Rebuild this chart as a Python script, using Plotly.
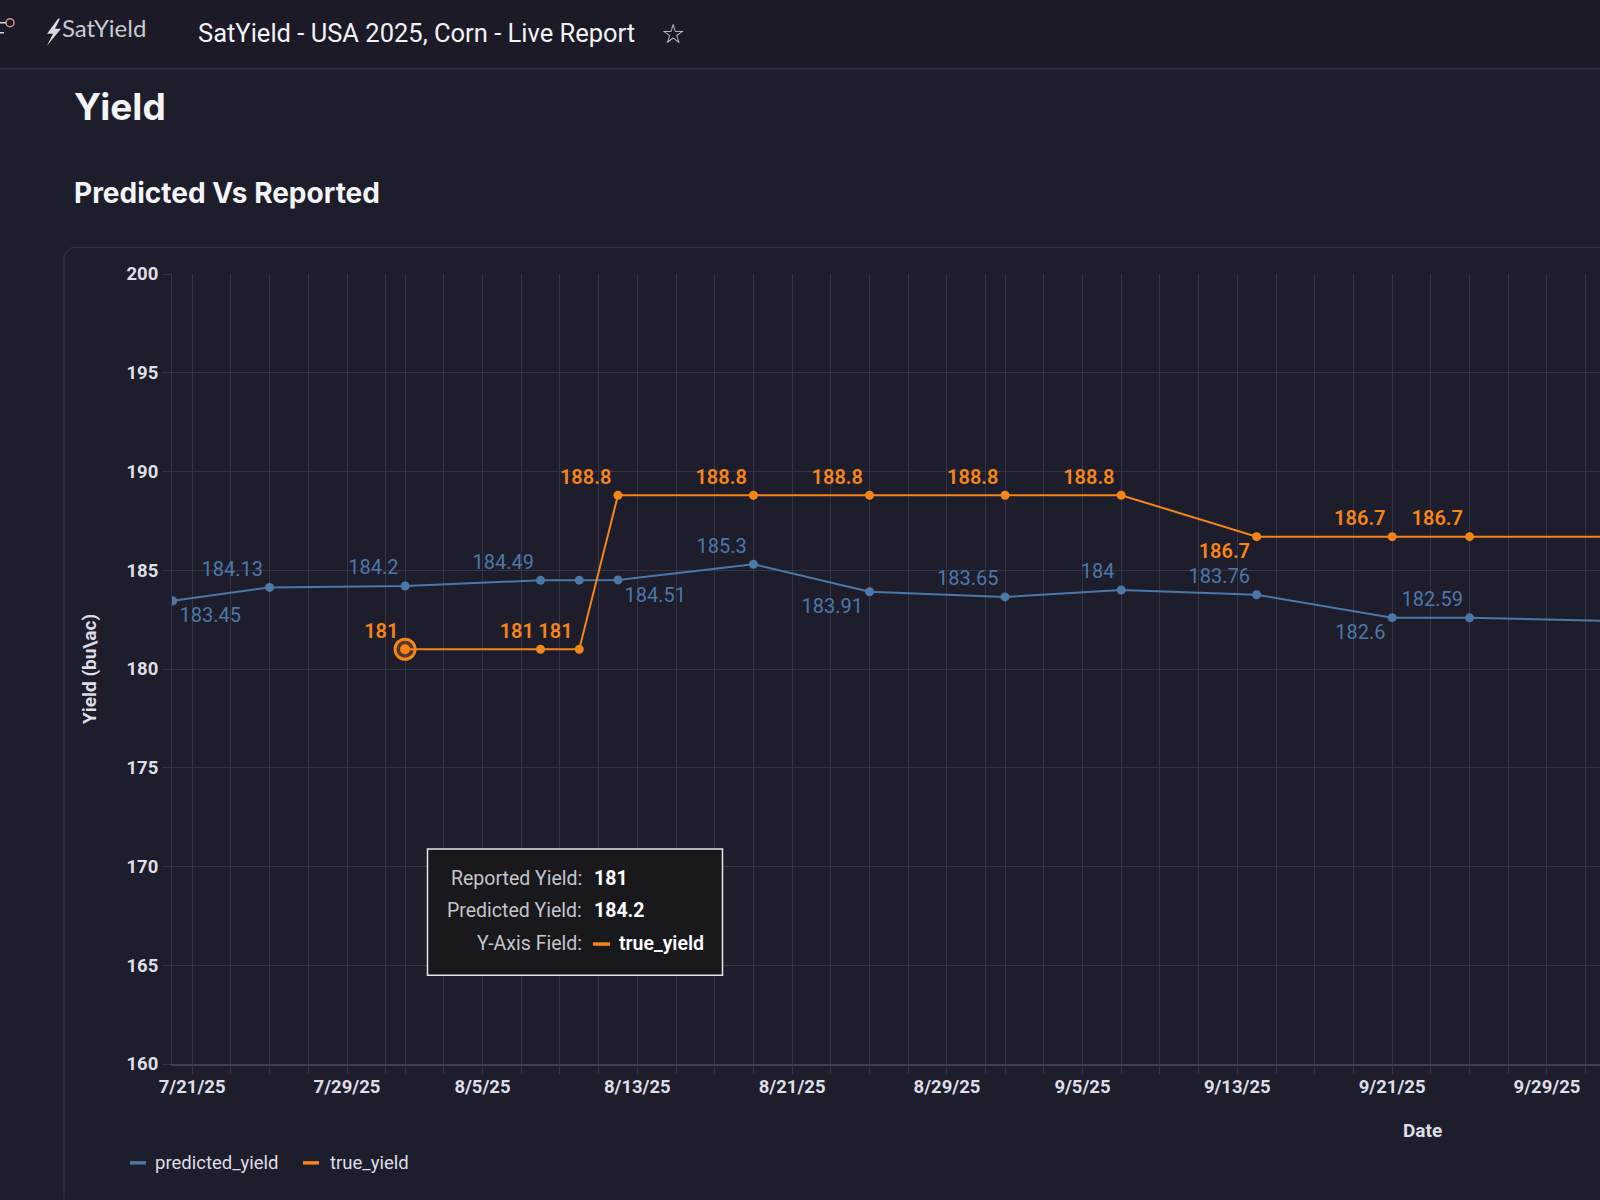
import pandas as pd
import plotly.graph_objects as go

# ---------------- data ----------------
pred_dates = ["2025-07-20", "2025-07-25", "2025-08-01", "2025-08-08", "2025-08-10",
              "2025-08-12", "2025-08-19", "2025-08-25", "2025-09-01", "2025-09-07",
              "2025-09-14", "2025-09-21", "2025-09-25", "2025-10-02"]
pred_values = [183.45, 184.13, 184.2, 184.49, 184.5, 184.51, 185.3, 183.91, 183.65,
               184.0, 183.76, 182.6, 182.59, 182.44]

true_dates = ["2025-08-01", "2025-08-08", "2025-08-10", "2025-08-12", "2025-08-19",
              "2025-08-25", "2025-09-01", "2025-09-07", "2025-09-14", "2025-09-21",
              "2025-09-25", "2025-10-02"]
true_values = [181, 181, 181, 188.8, 188.8, 188.8, 188.8, 188.8, 186.7, 186.7, 186.7, 186.7]

x_tick_dates = ["2025-07-21", "2025-07-29", "2025-08-05", "2025-08-13", "2025-08-21",
                "2025-08-29", "2025-09-05", "2025-09-13", "2025-09-21", "2025-09-29"]
x_tick_labels = ["7/21/25", "7/29/25", "8/5/25", "8/13/25", "8/21/25",
                 "8/29/25", "9/5/25", "9/13/25", "9/21/25", "9/29/25"]
y_tick_values = [160, 165, 170, 175, 180, 185, 190, 195, 200]

series_names = ["predicted_yield", "true_yield"]
hover_index = 0  # hovered true_yield point (8/1/25)
hover_pred_index = 2

# ---------------- styles ----------------
pred_label_pos = ["bottom right", "top left", "top left", "top left", None, "bottom right",
                  "top left", "bottom left", "top left", "top left", "top left",
                  "bottom left", "top left", None]
true_label_pos = ["top left", "top left", "top left", "top left", "top left", "top left",
                  "top left", "top left", "bottom left", "top left", "top left", None]

BG = "#1e1d2b"
HEADER_BG = "#1b1a26"
GRID = "#34334a"
AXIS = "#403f57"
BLUE = "#4c78a8"
ORANGE = "#f58518"
TXT = "#dedee6"
FONT = "Roboto"

W, H = 1600, 1200
L, R, T, B = 172, 1600, 273.5, 1064.3


def px(x):
    return (x - L) / (R - L)


def py(y):
    return (B - y) / (B - T)


def fmt(v):
    return f"{v:g}"


def labels(values, pos):
    return [fmt(v) if p else "" for v, p in zip(values, pos)]


def positions(pos):
    return [p if p else "top center" for p in pos]


fig = go.Figure()

fig.add_trace(go.Scatter(
    x=pred_dates, y=pred_values, name=series_names[0], mode="lines+markers+text",
    line=dict(color=BLUE, width=2), marker=dict(color=BLUE, size=9),
    text=labels(pred_values, pred_label_pos), textposition=positions(pred_label_pos),
    textfont=dict(color=BLUE, size=20, family=FONT), cliponaxis=True, showlegend=False,
))
fig.add_trace(go.Scatter(
    x=true_dates, y=true_values, name=series_names[1], mode="lines+markers+text",
    line=dict(color=ORANGE, width=2), marker=dict(color=ORANGE, size=9),
    text=labels(true_values, true_label_pos), textposition=positions(true_label_pos),
    textfont=dict(color=ORANGE, size=20, family=FONT, weight=600), cliponaxis=True,
    showlegend=False,
))
# hovered point highlight
fig.add_trace(go.Scatter(
    x=[true_dates[hover_index]], y=[true_values[hover_index]], mode="markers",
    marker=dict(symbol="circle", size=20, color="rgba(245,133,24,0.25)",
                line=dict(color=ORANGE, width=3)),
    showlegend=False, hoverinfo="skip",
))
fig.add_trace(go.Scatter(
    x=[true_dates[hover_index]], y=[true_values[hover_index]], mode="markers",
    marker=dict(symbol="circle-open", size=8, color=ORANGE, line=dict(color=ORANGE, width=2)),
    showlegend=False, hoverinfo="skip",
))

minor_days = [d.strftime("%Y-%m-%d") for d in pd.date_range("2025-07-19", "2025-10-05")
              if d.day % 2 == 1]

fig.update_layout(
    width=W, height=H,
    margin=dict(l=L, r=W - R, t=T, b=H - B),
    paper_bgcolor=BG, plot_bgcolor=BG,
    font=dict(family=FONT, color=TXT),
    showlegend=False,
    xaxis=dict(
        type="date", range=["2025-07-19 23:00", "2025-10-01 17:45"],
        tickmode="array", tickvals=x_tick_dates, ticktext=x_tick_labels,
        tickfont=dict(size=18.5, color=TXT, weight="bold", family=FONT),
        showgrid=True, gridcolor=GRID, gridwidth=1,
        ticks="outside", ticklen=5, tickcolor=GRID,
        minor=dict(tickmode="array", tickvals=minor_days, showgrid=True, gridcolor=GRID,
                   gridwidth=1, ticks="outside", ticklen=8, tickcolor=GRID),
        showline=True, linecolor=AXIS, linewidth=2, zeroline=False, automargin=False,
    ),
    yaxis=dict(
        range=[160, 200], tickmode="array", tickvals=y_tick_values,
        tickfont=dict(size=18.5, color=TXT, weight="bold", family=FONT),
        showgrid=True, gridcolor=GRID, gridwidth=1,
        ticks="outside", ticklen=9, tickcolor=GRID,
        showline=True, linecolor=GRID, linewidth=1, zeroline=False, automargin=False,
        title=dict(text="Yield (bu\\ac)", font=dict(size=19, color=TXT, weight="bold"),
                   standoff=24),
    ),
)

shapes = []
annotations = []


def ann(text, x, y, size, color=TXT, xanchor="left", yanchor="middle", weight="normal",
        family=FONT):
    annotations.append(dict(text=text, x=px(x), y=py(y), xref="paper", yref="paper",
                            showarrow=False, xanchor=xanchor, yanchor=yanchor,
                            font=dict(size=size, color=color, weight=weight, family=family)))


def rect(x0, y0, x1, y1, fill=None, line=None, lw=1):
    shapes.append(dict(type="rect", xref="paper", yref="paper", x0=px(x0), x1=px(x1),
                       y0=py(y0), y1=py(y1), fillcolor=fill or "rgba(0,0,0,0)",
                       line=dict(color=line or "rgba(0,0,0,0)", width=lw if line else 0),
                       layer="above"))


def path(points, fill=None, line=None, lw=1, close=True):
    d = "M " + " L ".join(f"{px(x):.5f},{py(y):.5f}" for x, y in points)
    if close:
        d += " Z"
    shapes.append(dict(type="path", xref="paper", yref="paper", path=d,
                       fillcolor=fill or "rgba(0,0,0,0)",
                       line=dict(color=line or "rgba(0,0,0,0)", width=lw if line else 0),
                       layer="above"))


# header bar
shapes.append(dict(type="rect", xref="paper", yref="paper", x0=px(0), x1=px(W), y0=py(0),
                   y1=py(68), fillcolor=HEADER_BG, line=dict(width=0), layer="below"))
shapes.append(dict(type="line", xref="paper", yref="paper", x0=px(0), x1=px(W), y0=py(68),
                   y1=py(68), line=dict(color="#2f2e3f", width=1.5)))
# small left icon
shapes.append(dict(type="circle", xref="paper", yref="paper", x0=px(6), x1=px(14),
                   y0=py(18), y1=py(26), line=dict(color="#e08f84", width=1.5)))
path([(0, 22), (6, 22)], line="#d8d8e0", lw=1.5, close=False)
path([(0, 32), (4, 32)], line="#d8d8e0", lw=1.5, close=False)
# logo bolt
path([(58, 18), (47, 33), (53, 33), (47, 45), (61, 28), (55, 28), (60, 18)], fill="#d8d8e0")
ann("SatYield", 60, 27, 24, color="#c9c9d2", family="Lato")
ann("SatYield - USA 2025, Corn - Live Report", 196, 32, 25.5, color="#f2f2f6")
ann("☆", 673, 33, 27, color="#d0d0d8", xanchor="center", family="DejaVu Sans")

# headings
ann("Yield", 72, 106, 37, color="#f4f4f8", weight="bold", family="Inter")
ann("Predicted Vs Reported", 72, 192, 28, color="#f4f4f8", weight="bold", family="Inter")

# panel border
path([(1600, 247), (72, 247), (64, 255), (64, 1200)], line="#302f40", lw=1.5, close=False)

# x-axis title
ann("Date", 1422, 1131, 19, weight="bold", xanchor="center")

# legend
legend_items = [(series_names[0], BLUE, 130, 153), (series_names[1], ORANGE, 303, 328)]
for name, col, x0, xt in legend_items:
    rect(x0, 1161.5, x0 + 16, 1165, fill=col)
    ann(name, xt, 1163, 18.5, color=TXT)

# tooltip
rect(427.5, 849, 722.5, 975.5, fill="#18181d", line="#e6e6ea", lw=1.5)
tip_rows = [("Reported Yield:", fmt(true_values[hover_index]), 878.5),
            ("Predicted Yield:", fmt(pred_values[hover_pred_index]), 911),
            ("Y-Axis Field:", series_names[1], 944)]
for lab, val, yy in tip_rows:
    ann(lab, 584, yy, 19.5, color="#c4c4ca", xanchor="right")
for lab, val, yy in tip_rows[:2]:
    ann(val, 592, yy, 19.5, color="#ffffff", weight="bold")
rect(593, 942.5, 610, 946, fill=ORANGE)
ann(tip_rows[2][1], 617, 944, 19.5, color="#ffffff", weight=600)

fig.update_layout(shapes=shapes, annotations=annotations)
fig.write_html(
    "out.html",
    config={"displayModeBar": False},
    post_script="document.body.style.margin='0';document.body.style.background='%s';" % BG,
)
